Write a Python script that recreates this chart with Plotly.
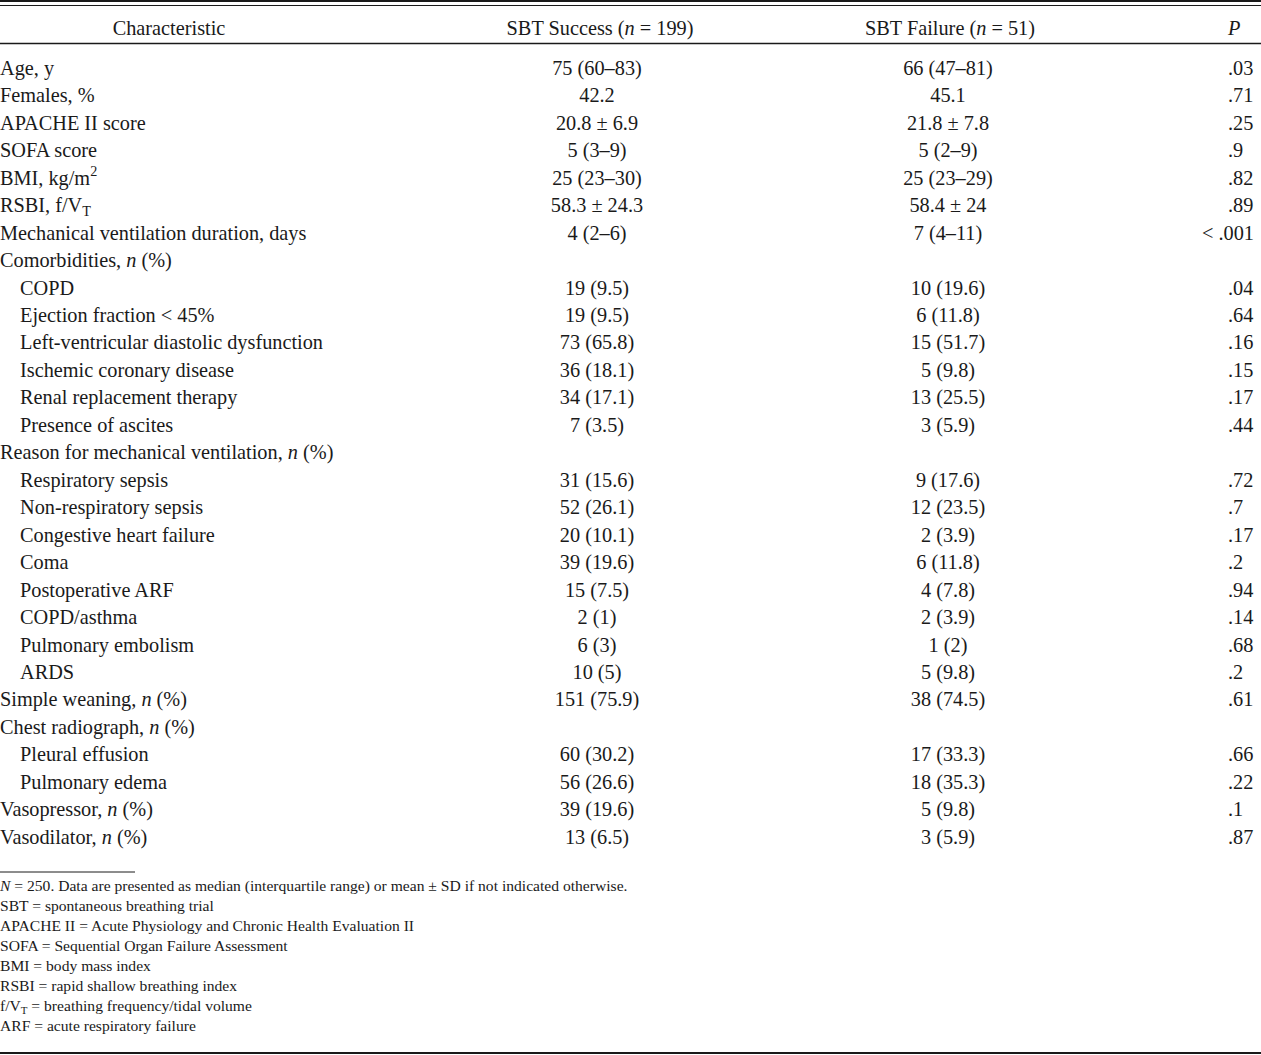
import plotly.graph_objects as go

# ---------------- data ----------------
headers = ["Characteristic", "SBT Success (<i>n</i> = 199)", "SBT Failure (<i>n</i> = 51)", "<i>P</i>"]

characteristics = [
    "Age, y", "Females, %", "APACHE II score", "SOFA score", "BMI, kg/m<sup>2</sup>",
    "RSBI, f/V<sub>T</sub>", "Mechanical ventilation duration, days",
    "Comorbidities, <i>n</i> (%)", "COPD", "Ejection fraction &lt; 45%",
    "Left-ventricular diastolic dysfunction", "Ischemic coronary disease",
    "Renal replacement therapy", "Presence of ascites",
    "Reason for mechanical ventilation, <i>n</i> (%)", "Respiratory sepsis",
    "Non-respiratory sepsis", "Congestive heart failure", "Coma", "Postoperative ARF",
    "COPD/asthma", "Pulmonary embolism", "ARDS", "Simple weaning, <i>n</i> (%)",
    "Chest radiograph, <i>n</i> (%)", "Pleural effusion", "Pulmonary edema",
    "Vasopressor, <i>n</i> (%)", "Vasodilator, <i>n</i> (%)",
]
is_subitem = [
    False, False, False, False, False, False, False,
    False, True, True, True, True, True, True,
    False, True, True, True, True, True, True, True, True,
    False, False, True, True, False, False,
]
sbt_success = [
    "75 (60–83)", "42.2", "20.8 ± 6.9", "5 (3–9)", "25 (23–30)", "58.3 ± 24.3", "4 (2–6)",
    "", "19 (9.5)", "19 (9.5)", "73 (65.8)", "36 (18.1)", "34 (17.1)", "7 (3.5)",
    "", "31 (15.6)", "52 (26.1)", "20 (10.1)", "39 (19.6)", "15 (7.5)", "2 (1)", "6 (3)", "10 (5)",
    "151 (75.9)", "", "60 (30.2)", "56 (26.6)", "39 (19.6)", "13 (6.5)",
]
sbt_failure = [
    "66 (47–81)", "45.1", "21.8 ± 7.8", "5 (2–9)", "25 (23–29)", "58.4 ± 24", "7 (4–11)",
    "", "10 (19.6)", "6 (11.8)", "15 (51.7)", "5 (9.8)", "13 (25.5)", "3 (5.9)",
    "", "9 (17.6)", "12 (23.5)", "2 (3.9)", "6 (11.8)", "4 (7.8)", "2 (3.9)", "1 (2)", "5 (9.8)",
    "38 (74.5)", "", "17 (33.3)", "18 (35.3)", "5 (9.8)", "3 (5.9)",
]
p_values = [
    ".03", ".71", ".25", ".9", ".82", ".89", "&lt; .001",
    "", ".04", ".64", ".16", ".15", ".17", ".44",
    "", ".72", ".7", ".17", ".2", ".94", ".14", ".68", ".2",
    ".61", "", ".66", ".22", ".1", ".87",
]
footnotes = [
    "<i>N</i> = 250. Data are presented as median (interquartile range) or mean ± SD if not indicated otherwise.",
    "SBT = spontaneous breathing trial",
    "APACHE II = Acute Physiology and Chronic Health Evaluation II",
    "SOFA = Sequential Organ Failure Assessment",
    "BMI = body mass index",
    "RSBI = rapid shallow breathing index",
    "f/V<sub>T</sub> = breathing frequency/tidal volume",
    "ARF = acute respiratory failure",
]

# ---------------- layout ----------------
W, H = 1261, 1055
FONT = "Liberation Serif, Times New Roman, serif"
INK = "#1a1a1a"
BODY_SIZE = 20.3
NOTE_SIZE = 15.6

row0, row_step = 69.8, 27.46
header_y = 29.8
note0, note_step = 887, 20
x_label, x_indent = 0, 20
x_succ, x_fail, x_p = 597, 948, 1228

n = len(characteristics)
row_y = [row0 + i * row_step for i in range(n)]

fig = go.Figure()
body_font = dict(family=FONT, size=BODY_SIZE, color=INK)


def text_trace(xs, ys, texts, pos, font):
    keep = [i for i, t in enumerate(texts) if t]
    pick = lambda v: [v[i] for i in keep] if isinstance(v, list) else v
    return go.Scatter(x=pick(xs), y=pick(ys), mode="text", text=pick(texts),
                      textposition=pick(pos), textfont=font, hoverinfo="skip",
                      cliponaxis=False, showlegend=False)


# header
fig.add_trace(text_trace([169, 600, 950, x_p], [header_y] * 4, headers,
                         ["middle center", "middle center", "middle center", "middle right"],
                         body_font))
# characteristic labels
fig.add_trace(text_trace([x_indent if s else x_label for s in is_subitem], row_y,
                         characteristics, "middle right", body_font))
# group columns
for xc, vals in ((x_succ, sbt_success), (x_fail, sbt_failure)):
    fig.add_trace(text_trace([xc] * n, row_y, vals, "middle center", body_font))
# P column
fig.add_trace(text_trace([x_p] * n, row_y, p_values,
                         ["middle center" if v.startswith("&lt;") else "middle right" for v in p_values],
                         body_font))
# footnotes
fig.add_trace(text_trace([0] * len(footnotes),
                         [note0 + j * note_step for j in range(len(footnotes))],
                         footnotes, "middle right",
                         dict(family=FONT, size=NOTE_SIZE, color=INK)))

line = lambda x0, x1, y, w: dict(type="line", xref="x", yref="y", x0=x0, x1=x1, y0=y, y1=y,
                                 line=dict(color=INK, width=w))
fig.update_layout(
    width=W, height=H, margin=dict(l=0, r=0, t=0, b=0),
    paper_bgcolor="white", plot_bgcolor="white",
    xaxis=dict(range=[0, W], visible=False, fixedrange=True),
    yaxis=dict(range=[H, 0], visible=False, fixedrange=True),
    shapes=[
        line(0, W, 1, 2),
        line(0, W, 5.5, 1.2),
        line(0, W, 43.5, 1.4),
        line(0, 135, 872, 1),
        line(0, W, 1053, 1.8),
    ],
)

fig.write_html("out.html", config={"displayModeBar": False},
               post_script="document.body.style.margin='0';")
